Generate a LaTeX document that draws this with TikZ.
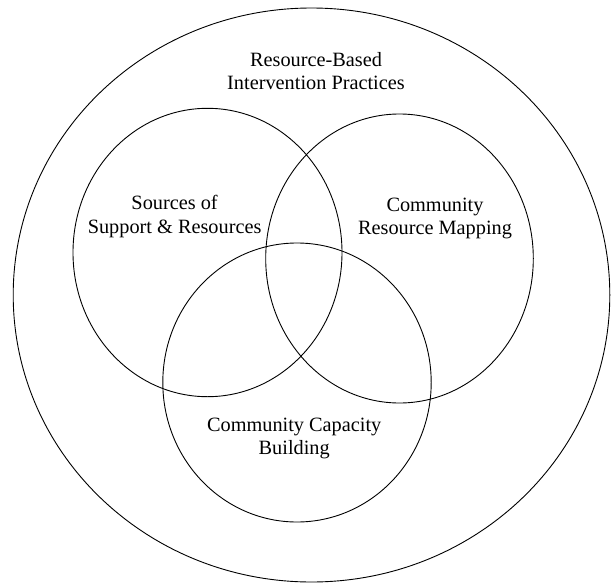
\documentclass[tikz,border=0pt]{standalone}
\usepackage{fontspec}
\setmainfont{Liberation Serif}
\begin{document}
\begin{tikzpicture}[x=1pt,y=-1pt,
  ring/.style={draw=black,line width=0.9pt},
  lbl/.style={align=center,inner sep=0pt,font=\fontsize{20.3}{23.3}\selectfont}]
\useasboundingbox (0,0) rectangle (611,584);
\draw[ring] (311.5,295) ellipse [x radius=298.3, y radius=287];
\draw[ring] (207.5,252.5) ellipse [x radius=134.5, y radius=144.2];
\draw[ring] (399.5,258.5) ellipse [x radius=133.8, y radius=144.5];
\draw[ring] (297,382.5) ellipse [x radius=134.2, y radius=139.5];
\node[lbl] (outer) at (316,71) {Resource-Based\\Intervention Practices};
\node[lbl] (src) at (174.6,216.6) {Sources of\\Support \& Resources};
\node[lbl] (map) at (435,218.2) {Community\\Resource Mapping};
\node[lbl] (cap) at (294.2,438.5) {Community Capacity\\Building};
\end{tikzpicture}
\end{document}
